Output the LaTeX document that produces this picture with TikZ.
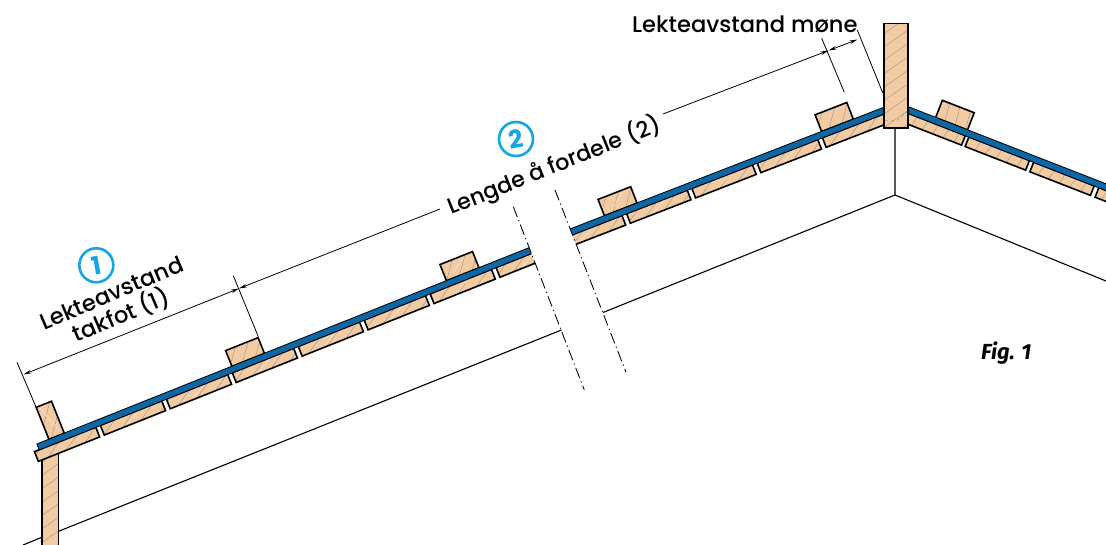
\documentclass[tikz,border=0pt]{standalone}
\usepackage{fontspec}
\setmainfont{Poppins}
\newfontfamily\labfont{Poppins Medium}
\newfontfamily\figfont{Fira Sans}
\usetikzlibrary{arrows.meta,patterns.meta}
\definecolor{woodc}{HTML}{F2CBA3}
\definecolor{bandc}{HTML}{0B67A6}
\definecolor{markc}{HTML}{14A6E4}
\tikzset{
  woodbase/.style={draw=black,line width=1.6pt,line join=miter,preaction={fill=woodc}},
  board/.style={woodbase,preaction={pattern={Lines[angle=55,distance=11pt,line width=.35pt]},pattern color=black!45}},
  batten/.style={woodbase,preaction={pattern={Lines[angle=75,distance=11pt,line width=.35pt]},pattern color=black!45}},
  post/.style={woodbase,preaction={pattern={Lines[angle=35,distance=11pt,line width=.35pt]},pattern color=black!45}},
  band/.style={draw=black,line width=.8pt,fill=bandc},
  wall/.style={draw=black,line width=1.1pt},
  dim/.style={draw=black,line width=.8pt},
  grain/.style={draw=white,opacity=.7,line width=.4pt},
  breakline/.style={draw=black,line width=.85pt,dash pattern=on 11pt off 3.5pt on 1.2pt off 3.5pt},
  lab/.style={font=\labfont\fontsize{22.6}{25}\selectfont,text=black,inner sep=0pt,align=center},
  marker/.style={circle,draw=markc,line width=2.6pt,minimum size=34pt,inner sep=0pt,text=markc,font=\fontsize{25}{25}\selectfont\bfseries}
}
\begin{document}
\begin{tikzpicture}[x=1pt,y=-1pt,>={Stealth[length=8pt,width=3.6pt]}]
\useasboundingbox (0,0) rectangle (1106,545);
% ceiling and wall lines
\coordinate (c0) at (23,545); \coordinate (c1) at (45,536);
\coordinate (c2) at (58,531.5); \coordinate (c3) at (561.5,330);
\coordinate (c4) at (603,312.5); \coordinate (c5) at (895,195);
\coordinate (c6) at (1106,281); \coordinate (c7) at (895,128);
\draw[wall] (c0)--(c1) (c2)--(c3) (c4)--(c5)--(c6) (c5)--(c7);
% eave post
\path[post] (42,452) rectangle (58.3,548);
% left roof part
\begin{scope}
\clip (0,0)--(433,0)--(644,545)--(0,545)--cycle;
\begin{scope}[shift={(38,447)},rotate=21.75]
\path[batten] (13,-3)--(13,-37.5)--(29.5,-37.5)--(29.5,-3)--cycle;
\path[batten] (210,-3)--(210,-20)--(245,-20)--(245,-3)--cycle;
\path[batten] (441,-3)--(441,-20.5)--(476,-20.5)--(476,-3)--cycle;
\path[board] (-5,3)rectangle(61,13.5);
\foreach \s in {66,137,208,279,350,421,492}{
  \path[board] (\s,3)rectangle(\s+66,13.5);
  \draw[grain] (\s+25,12)--(\s+40,4);}
\draw[grain] (16,-36)--(26,-8);
\draw[grain] (450,-8)--(465,-18);
\path[band] (0,-3.2)rectangle(620,3.2);
\end{scope}
\end{scope}
% right-of-break roof part
\begin{scope}
\clip (481,0)--(1106,0)--(1106,545)--(693,545)--cycle;
\begin{scope}[shift={(571,232)},rotate=21.2]
\path[batten] (37,-3)--(37,-20.6)--(72,-20.6)--(72,-3)--cycle;
\path[batten] (270,-3)--(270,-21)--(304,-21)--(304,-3)--cycle;
\path[board] (-30,3)rectangle(53.5,13.3);
\foreach \s in {58.5,128.5,198.5}{
  \path[board] (\s,3)rectangle(\s+65,13.3);
  \draw[grain] (\s+25,12)--(\s+40,4);}
\draw[grain] (46,-6)--(62,-18);
\draw[grain] (5,12)--(20,5);
\path[board] (268.5,3)rectangle(345,13.3);
\path[band] (-30,-3.2)rectangle(345,3.2);
\end{scope}
\end{scope}
% right slope
\begin{scope}
\clip (900,0) rectangle (1106,545);
\begin{scope}[shift={(908,110)},rotate=-21.3]
\path[batten] (28.5,-3)--(28.5,-21.5)--(62.7,-21.5)--(62.7,-3)--cycle;
\path[board] (-20,3)rectangle(62.7,13.3);
\foreach \s in {66.5,136,206}{
  \path[board] (\s,3)rectangle(\s+65,13.3);}
\path[band] (-20,-3.2)rectangle(240,3.2);
\end{scope}
\end{scope}
% ridge post
\path[post] (884,23.5) rectangle (907.7,128);
\draw[black!50,line width=.35pt,dashed] (885,120.5)--(897,120.5)--(907,112);
% break lines
\coordinate (b1) at (513.3,206.7); \coordinate (b2) at (584.3,390);
\coordinate (b3) at (555,190); \coordinate (b4) at (626,372.3);
\draw[breakline] (b1)--(b2);
\draw[breakline] (b3)--(b4);
% extension lines
\coordinate (e1) at (17,362.3); \coordinate (e2) at (36,407);
\coordinate (e3) at (233.3,275.7); \coordinate (e4) at (258.3,336.7);
\coordinate (e5) at (821.7,38.3); \coordinate (e6) at (844.3,92.3);
\coordinate (e7) at (857.3,30); \coordinate (e8) at (882.7,92.7);
\draw[dim] (e1)--(e2) (e3)--(e4) (e5)--(e6) (e7)--(e8);
% dimension lines
\coordinate (d1) at (23.5,374.5); \coordinate (d2) at (239,288.5);
\coordinate (d3) at (239,288.5); \coordinate (d4) at (440,209);
\coordinate (d5) at (663,114); \coordinate (d6) at (828.5,50.5);
\coordinate (d7) at (857.5,39.5);
\draw[dim,<->] (d1)--(d2);
\draw[dim,<-] (d3)--(d4);
\draw[dim,->] (d5)--(d6);
\draw[dim,<->] (d6)--(d7);
% labels
\node[lab,anchor=west] (moene) at (632,24) {Lekteavstand møne};
\node[lab,rotate=21.8,font=\labfont\fontsize{22.2}{25}\selectfont] (lengde) at (554,166) {Lengde å fordele (2)};
\node[lab,rotate=23] (takfot) at (117,306) {Lekteavstand\\[-1pt]takfot (1)};
\node[marker] (m1) at (96.3,265.3) {\rotatebox{10}{1}};
\node[marker] (m2) at (516,139) {\rotatebox{10}{2}};
\node[inner sep=0pt,anchor=west,font=\figfont\fontsize{21.8}{23}\selectfont\bfseries\itshape] (fig) at (981,353) {Fig. 1};
\end{tikzpicture}
\end{document}
